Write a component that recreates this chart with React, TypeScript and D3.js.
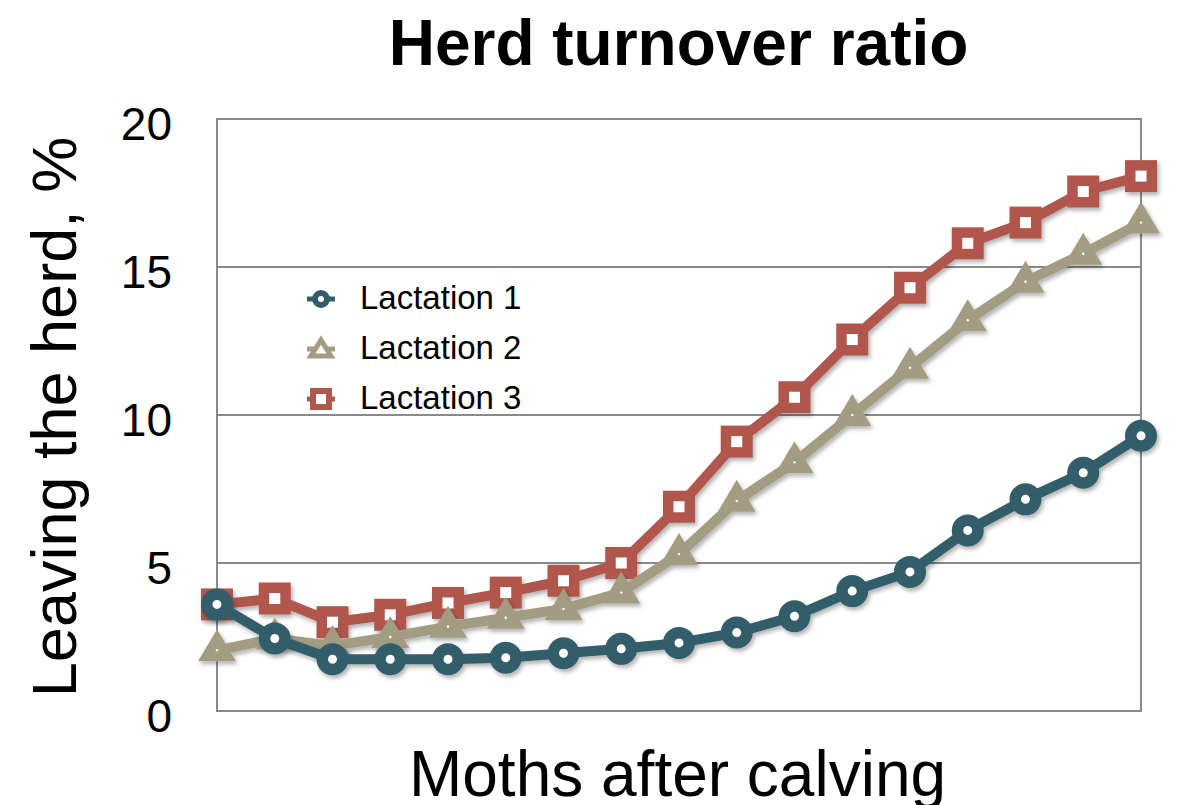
import React from "react";
import * as d3 from "d3";

const months = d3.range(17);
const lactation1 = [3.6, 2.45, 1.75, 1.75, 1.75, 1.8, 1.95, 2.1, 2.3, 2.65, 3.2, 4.05, 4.7, 6.1, 7.15, 8.05, 9.3];
const lactation2 = [2.05, 2.45, 2.2, 2.5, 2.85, 3.15, 3.45, 4.0, 5.3, 7.1, 8.4, 10.0, 11.6, 13.2, 14.5, 15.45, 16.5];
const lactation3 = [3.6, 3.8, 3.0, 3.25, 3.65, 4.0, 4.4, 5.0, 6.9, 9.1, 10.6, 12.55, 14.3, 15.8, 16.5, 17.55, 18.07];
const yTicks = [0, 5, 10, 15, 20];
const seriesNames = ["Lactation 1", "Lactation 2", "Lactation 3"];
const seriesColors = ["#335D6B", "#A29C82", "#B0574E"];

const FONT = "'Liberation Sans', Arial, Helvetica, sans-serif";

function Marker({ kind, color, x, y }: { kind: number; color: string; x: number; y: number }) {
  if (kind === 0) {
    return <circle cx={x} cy={y} r={10.25} fill="#fff" stroke={color} strokeWidth={11.5} />;
  }
  if (kind === 1) {
    return (
      <g>
        <path d={`M${x},${y - 21} L${x + 19},${y + 11} L${x - 19},${y + 11} Z`} fill={color} />
        <circle cx={x} cy={y} r={1.2} fill="#fff" />
      </g>
    );
  }
  const side = 21.5;
  return <rect x={x - side / 2} y={y - side / 2} width={side} height={side} fill="#fff" stroke={color} strokeWidth={10.5} />;
}

function LegendMarker({ kind, color, x, y }: { kind: number; color: string; x: number; y: number }) {
  let m;
  if (kind === 0) {
    m = <circle cx={x} cy={y} r={6} fill="#fff" stroke={color} strokeWidth={6} />;
  } else if (kind === 1) {
    m = <path d={`M${x},${y - 9} L${x + 10},${y + 7} L${x - 10},${y + 7} Z`} fill="#fff" stroke={color} strokeWidth={5} strokeLinejoin="miter" />;
  } else {
    m = <rect x={x - 8} y={y - 8} width={16} height={16} fill="#fff" stroke={color} strokeWidth={6} />;
  }
  return (
    <g>
      <line x1={x - 14} x2={x + 14} y1={y} y2={y} stroke={color} strokeWidth={5} />
      {m}
    </g>
  );
}

export default function App() {
  const left = 217, right = 1141, top = 119, bottom = 711;
  const x = d3.scalePoint<number>().domain(months).range([left, right]);
  const y = d3.scaleLinear().domain([0, 20]).range([bottom, top]);
  const line = d3.line<number>().x((_, i) => x(months[i]) as number).y((d) => y(d));
  const allSeries = [lactation1, lactation2, lactation3];
  const drawOrder = [2, 1, 0];

  return (
    <svg width={1181} height={805} style={{ position: "absolute", left: 0, top: 0, background: "#fff" }} fontFamily={FONT}>
      <defs>
        <filter id="shadow" x="-10%" y="-10%" width="120%" height="130%">
          <feDropShadow dx="2" dy="3" stdDeviation="2" floodColor="#000" floodOpacity="0.3" />
        </filter>
      </defs>
      <rect x={0} y={0} width={1181} height={805} fill="#fff" />
      <text x={678.5} y={65} textAnchor="middle" fontSize={64} fontWeight="bold" fill="#000">Herd turnover ratio</text>

      {yTicks.filter((t) => t > 0 && t < 20).map((t) => (
        <line key={t} x1={left} x2={right} y1={y(t)} y2={y(t)} stroke="#8a8a8a" strokeWidth={2} />
      ))}
      <rect x={left} y={top} width={right - left} height={bottom - top} fill="none" stroke="#8a8a8a" strokeWidth={2} />

      {yTicks.map((t) => (
        <text key={t} x={172} y={y(t) + 21} textAnchor="end" fontSize={46} fill="#000">{t}</text>
      ))}

      <text transform={`translate(76,417) rotate(-90)`} textAnchor="middle" fontSize={63} fill="#000">Leaving the herd, %</text>
      <text x={677.5} y={796} textAnchor="middle" fontSize={64} fill="#000">Moths after calving</text>

      {drawOrder.map((si) => {
        const data = allSeries[si];
        const c = seriesColors[si];
        return (
          <g key={si} filter="url(#shadow)">
            <path d={line(data) || ""} fill="none" stroke={c} strokeWidth={10} strokeLinejoin="round" />
            {data.map((v, i) => (
              <Marker key={i} kind={si} color={c} x={x(months[i]) as number} y={y(v)} />
            ))}
          </g>
        );
      })}

      {seriesNames.map((n, i) => {
        const ly = 299 + i * 50;
        return (
          <g key={n}>
            <LegendMarker kind={i} color={seriesColors[i]} x={321} y={ly} />
            <text x={360} y={ly + 10} fontSize={33} fill="#000">{n}</text>
          </g>
        );
      })}
    </svg>
  );
}
